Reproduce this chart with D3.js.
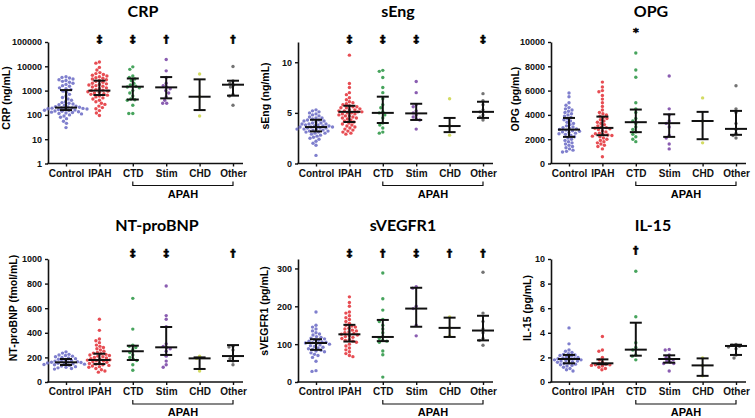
<!DOCTYPE html>
<html><head><meta charset="utf-8">
<script src="https://cdn.jsdelivr.net/npm/d3@7"></script>
<style>body{margin:0;background:#fff}svg{display:block}</style>
</head><body>
<svg id="c" width="755" height="418"></svg>
<script>
const categories = ["Control","IPAH","CTD","Stim","CHD","Other"];
const groupColors = ["#6d6dc6","#e4343b","#2d9747","#7a47a6","#cdd64c","#606060"];

// CRP (ng/mL)
const crpValues = [
  [3700,3500,3300,3000,2800,2600,2400,2200,2000,1800,1600,1500,1300,1200,1100,950,850,700,600,520,450,400,350,320,300,280,260,250,230,220,210,205,200,195,190,185,180,175,170,165,160,155,150,145,140,135,130,125,120,115,110,100,90,80,70,55,45,30],
  [15000,13500,9000,7000,5500,5000,4600,4300,4000,3700,3400,3200,3000,2800,2600,2400,2200,2000,1900,1800,1700,1600,1500,1400,1300,1200,1100,1050,1000,950,900,850,800,750,700,650,600,550,500,450,400,350,300,270,230,200,180,150,120,95],
  [9500,7500,4000,3500,3000,2600,2000,1700,1500,1400,1300,1000,800,600,450,420,400,250,115,115],
  [19000,6500,3500,2000,1600,1400,1200,1000,800,550,400,300,300],
  [4800,560,90],
  [9800,2500,2000,1700,1400,700,600,250]
];
const crpMedian = [200,1000,1450,1360,560,1750];
const crpQ1 = [158,660,430,480,158,620];
const crpQ3 = [1050,2570,3150,3600,2900,2550];
const crpSig = ["","‡","‡","†","","†"];
const crpTicks = [1,10,100,1000,10000,100000];

// sEng (ng/mL)
const sengValues = [
  [5.3,5.2,5.1,5.0,4.9,4.8,4.7,4.6,4.5,4.5,4.4,4.3,4.3,4.2,4.2,4.1,4.0,4.0,3.9,3.9,3.9,3.8,3.8,3.7,3.7,3.7,3.6,3.6,3.6,3.5,3.5,3.5,3.4,3.4,3.4,3.3,3.3,3.2,3.2,3.1,3.1,3.0,3.0,2.9,2.8,2.7,2.6,2.5,2.4,2.2,2.0,1.8,0.8],
  [10.7,7.9,7.5,7.0,6.8,6.5,6.3,6.1,6.0,5.9,5.8,5.7,5.6,5.6,5.5,5.5,5.4,5.3,5.3,5.2,5.2,5.1,5.1,5.0,5.0,4.9,4.9,4.8,4.7,4.7,4.6,4.5,4.5,4.4,4.3,4.2,4.1,4.0,3.9,3.8,3.7,3.6,3.5,3.4,3.3,3.2,3.1,3.0,2.9],
  [9.2,9.1,8.5,7.5,7.0,6.4,5.8,5.5,5.1,5.0,4.8,4.5,4.0,3.8,3.5,3.1,3.0],
  [8.1,7.0,5.8,5.6,5.2,5.0,4.8,4.6,4.4,4.3,3.4],
  [6.4,3.7,2.8],
  [6.9,6.2,5.8,5.3,5.1,4.8,4.6,4.3]
];
const sengMedian = [3.6,5.1,5.0,4.95,3.7,5.1];
const sengQ1 = [3.17,4.1,4.0,4.3,3.1,4.5];
const sengQ3 = [4.32,5.7,6.6,5.9,4.5,6.1];
const sengSig = ["","‡","‡","‡","","‡"];
const sengTicks = [0,5,10];

// OPG (pg/mL)
const opgValues = [
  [5800,5500,5000,4800,4600,4500,4400,4300,4200,4100,4000,3900,3800,3700,3600,3500,3400,3300,3200,3100,3000,2950,2900,2850,2800,2750,2700,2650,2600,2550,2500,2450,2400,2300,2200,2100,2000,1900,1800,1700,1600,1500,1400,1300,1200,1100,1000,950],
  [6700,6300,6000,5900,5600,5300,5000,4700,4400,4200,4100,4000,3900,3800,3700,3600,3500,3400,3300,3200,3100,3000,2950,2900,2850,2800,2700,2600,2500,2450,2400,2350,2300,2250,2200,2100,2000,1900,1800,1700,1600,1500,1400,1200,550],
  [9100,7700,7100,5000,4500,4200,3700,3500,3300,3000,2800,2600,2400,2200,2000,1800],
  [7200,4500,4000,3500,3300,3000,2300,2100,1600,1200],
  [5400,3500,1700],
  [6400,4500,4200,3300,2800,2500,2300,2100]
];
const opgMedian = [2790,2930,3400,3320,3500,2850];
const opgQ1 = [2190,2330,2580,2190,2000,2360];
const opgQ3 = [3750,3860,4440,4050,4250,4330];
const opgSig = ["","","*","","",""];
const opgTicks = [0,2000,4000,6000,8000,10000];

// NT-proBNP (fmol/mL)
const bnpValues = [
  [245,235,225,220,215,210,205,200,195,190,185,180,175,170,168,165,162,160,158,155,152,150,148,145,142,140,135,130,125,120,115,110,105],
  [510,420,350,335,320,300,290,280,270,260,250,240,235,230,225,220,215,210,205,200,195,190,185,180,178,175,170,165,160,155,150,145,140,135,130,125,120,110,100,90,80],
  [680,430,300,290,280,260,240,220,200,185,175,140,95],
  [780,540,510,450,310,290,280,270,250,210,170,140,120],
  [210,192,90],
  [290,285,260,210,190,170,140]
];
const bnpMedian = [160,179,250,282,192,211];
const bnpQ1 = [138,146,179,220,106,171];
const bnpQ3 = [187,230,295,447,200,300];
const bnpSig = ["","","‡","‡","","†"];
const bnpTicks = [0,200,400,600,800,1000];

// sVEGFR1 (pg/mL)
const vegfValues = [
  [185,150,145,140,135,130,127,124,120,118,116,114,112,110,108,106,105,104,103,102,100,98,96,94,92,90,88,86,84,82,80,77,73,70,65,55,30,28],
  [225,210,200,185,182,175,170,165,160,155,150,148,145,142,140,137,135,132,130,128,126,124,122,120,118,115,112,110,108,105,100,95,90,85,80,75,70,67],
  [288,220,190,165,160,150,140,130,120,115,110,108,105,82,72,13],
  [252,248,200,194,150,122],
  [172,143,122],
  [290,182,160,140,130,115,110,97]
];
const vegfMedian = [103,126,119,194,143,136];
const vegfQ1 = [85,107,108,146,119,110];
const vegfQ3 = [113,151,164,249,170,175];
const vegfSig = ["","‡","†","‡","†","†"];
const vegfTicks = [0,100,200,300];

// IL-15 (pg/mL)
const il15Values = [
  [4.4,3.1,2.6,2.5,2.4,2.3,2.25,2.2,2.15,2.1,2.05,2.0,1.95,1.9,1.9,1.85,1.8,1.8,1.75,1.7,1.7,1.65,1.6,1.55,1.5,1.45,1.4,1.35,1.3,1.2,1.1,1.0,0.9],
  [3.7,2.6,2.5,2.0,1.8,1.6,1.5,1.45,1.4,1.4,1.35,1.3,1.2,1.1,1.0],
  [9.0,5.3,3.2,2.8,2.6,2.2,2.1,1.8],
  [2.65,2.6,2.2,2.0,1.9,1.8,1.7,1.6,1.5,1.5,0.9],
  [1.95,1.35,0.5],
  [3.05,3.0,2.9,2.85,2.7,2.2,1.95]
];
const il15Median = [1.87,1.52,2.63,1.87,1.35,2.93];
const il15Q1 = [1.52,1.44,2.14,1.57,0.5,2.2];
const il15Q3 = [2.2,1.84,4.82,2.17,1.92,3.03];
const il15Sig = ["","","†","","",""];
const il15Ticks = [0,2,4,6,8,10];

// layout (positions only)
const colX = [48, 298, 551];
const rowTop = [42, 259], rowBottom = [163.5, 382];

const panels = [
  {title:"CRP", ylabel:"CRP (ng/mL)", values:crpValues, med:crpMedian, q1:crpQ1, q3:crpQ3, sig:crpSig, ticks:crpTicks, log:true, domain:[1,100000], col:0,row:0, titleX:143, labelDX:-41, labelY:98, sigY:40},
  {title:"sEng", ylabel:"sEng (ng/mL)", values:sengValues, med:sengMedian, q1:sengQ1, q3:sengQ3, sig:sengSig, ticks:sengTicks, domain:[0,12], col:1,row:0, titleX:398, labelDX:-32, labelY:96, sigY:40},
  {title:"OPG", ylabel:"OPG (pg/mL)", values:opgValues, med:opgMedian, q1:opgQ1, q3:opgQ3, sig:opgSig, ticks:opgTicks, domain:[0,10000], col:2,row:0, titleX:651, labelDX:-35, labelY:99, sigY:33},
  {title:"NT-proBNP", ylabel:"NT-proBNP (fmol/mL)", values:bnpValues, med:bnpMedian, q1:bnpQ1, q3:bnpQ3, sig:bnpSig, ticks:bnpTicks, domain:[0,1000], col:0,row:1, titleX:157, labelDX:-34, labelY:308, sigY:254},
  {title:"sVEGFR1", ylabel:"sVEGFR1 (pg/mL)", values:vegfValues, med:vegfMedian, q1:vegfQ1, q3:vegfQ3, sig:vegfSig, ticks:vegfTicks, domain:[0,325], col:1,row:1, titleX:403, labelDX:-33, labelY:311, sigY:254},
  {title:"IL-15", ylabel:"IL-15 (pg/mL)", values:il15Values, med:il15Median, q1:il15Q1, q3:il15Q3, sig:il15Sig, ticks:il15Ticks, domain:[0,10], col:2,row:1, titleX:653, labelDX:-23, labelY:308, sigY:251}
];

const svg = d3.select("#c");
const AX = "'Liberation Sans', Arial, sans-serif";
const R = 1.7;

function swarm(ys, d) {
  const order = d3.range(ys.length).sort((a,b)=>ys[a]-ys[b]);
  const placed = [], out = new Array(ys.length);
  for (const i of order) {
    const y = ys[i];
    let off = 0;
    for (let k = 0; k < 400; k++) {
      const o = (k % 2 === 0 ? 1 : -1) * Math.ceil(k/2) * 0.5;
      let ok = true;
      for (const p of placed) {
        if (Math.abs(p.y - y) < d && (p.x-o)*(p.x-o) + (p.y-y)*(p.y-y) < d*d) { ok = false; break; }
      }
      if (ok) { off = o; break; }
    }
    placed.push({x:off, y}); out[i] = off;
  }
  return out;
}

panels.forEach(p => {
  const ax = colX[p.col];
  const top = rowTop[p.row], bot = rowBottom[p.row];
  const g = svg.append("g");
  const y = (p.log ? d3.scaleLog() : d3.scaleLinear()).domain(p.domain).range([bot, top]);
  const x = d3.scalePoint().domain(categories).range([ax+18, ax+185]);

  // title
  g.append("text").attr("x", p.titleX).attr("y", p.row===0 ? 17 : 231)
    .attr("text-anchor","middle").attr("font-family","Lato, 'Open Sans', sans-serif")
    .attr("font-weight",700).attr("font-size",16).text(p.title);

  // y label
  g.append("text").attr("transform",`translate(${ax+p.labelDX},${p.labelY}) rotate(-90)`)
    .attr("text-anchor","middle").attr("dominant-baseline","middle")
    .attr("font-family",AX).attr("font-weight",700).attr("font-size",10.5).text(p.ylabel);

  // y axis
  const yAxis = d3.axisLeft(y).tickValues(p.ticks).tickSize(3).tickSizeOuter(0).tickPadding(3)
    .tickFormat(d3.format("d"));
  const ya = g.append("g").attr("transform",`translate(${ax},0)`).call(yAxis);
  ya.select(".domain").attr("stroke","#111").attr("stroke-width",1.6);
  ya.selectAll(".tick line").attr("stroke","#111").attr("stroke-width",1.4);
  ya.selectAll("text").attr("font-family",AX).attr("font-weight",700).attr("font-size",9).attr("fill","#111");

  // x axis
  g.append("line").attr("x1",ax-0.8).attr("x2",ax+195).attr("y1",bot).attr("y2",bot)
    .attr("stroke","#111").attr("stroke-width",1.6);
  const xa = g.append("g").attr("transform",`translate(0,${bot})`)
    .call(d3.axisBottom(x).tickSize(3).tickSizeOuter(0).tickPadding(3));
  xa.select(".domain").remove();
  xa.selectAll(".tick line").attr("stroke","#111").attr("stroke-width",1.4);
  xa.selectAll("text").attr("font-family",AX).attr("font-weight",700).attr("font-size",10).attr("fill","#111");

  // bracket APAH
  const bx1 = x("CTD"), bx2 = x("Other"), by = bot + 22;
  g.append("path").attr("d",`M${bx1},${by-4}V${by}H${bx2}V${by-4}`)
    .attr("fill","none").attr("stroke","#111").attr("stroke-width",1.2);
  g.append("text").attr("x",(bx1+bx2)/2).attr("y",by+12).attr("text-anchor","middle")
    .attr("font-family",AX).attr("font-weight",700).attr("font-size",11).text("APAH");

  // points
  categories.forEach((c,i) => {
    const vals = p.values[i];
    const ys = vals.map(v => y(v));
    const offs = swarm(ys, 2*R + 0.2);
    g.append("g").selectAll("circle").data(vals).join("circle")
      .attr("cx",(d,j)=>x(c)+offs[j]).attr("cy",(d,j)=>ys[j]).attr("r",R)
      .attr("fill",groupColors[i]).attr("opacity",0.88);

    // median & IQR
    const cx = x(c);
    const lg = g.append("g").attr("stroke","#111").attr("stroke-width",2);
    lg.append("line").attr("x1",cx).attr("x2",cx).attr("y1",y(p.q1[i])).attr("y2",y(p.q3[i]));
    lg.append("line").attr("x1",cx-6).attr("x2",cx+6).attr("y1",y(p.q1[i])).attr("y2",y(p.q1[i]));
    lg.append("line").attr("x1",cx-6).attr("x2",cx+6).attr("y1",y(p.q3[i])).attr("y2",y(p.q3[i]));
    lg.append("line").attr("x1",cx-11).attr("x2",cx+11).attr("y1",y(p.med[i])).attr("y2",y(p.med[i]));

    if (p.sig[i]) {
      g.append("text").attr("x",cx).attr("y",p.sigY).attr("text-anchor","middle")
        .attr("dominant-baseline","middle").attr("font-family","'DejaVu Sans', sans-serif")
        .attr("font-weight",700).attr("font-size",11)
        .attr("fill","#000").attr("stroke","#000").attr("stroke-width",0.5)
        .style("-webkit-font-smoothing","antialiased")
        .text(p.sig[i]);
    }
  });
});
</script>
</body></html>
